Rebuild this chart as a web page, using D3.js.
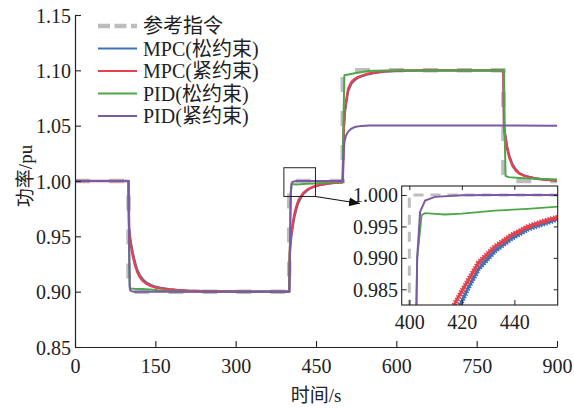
<!DOCTYPE html>
<html>
<head>
<meta charset="utf-8">
<script src="https://cdn.jsdelivr.net/npm/d3@7"></script>
<style>
  html, body { margin: 0; padding: 0; background: #fff; }
  svg { display: block; }
  text { font-family: "Liberation Serif", "Times New Roman", "Noto Sans CJK SC", serif; fill: #222; }
</style>
</head>
<body>
<svg id="chart" width="574" height="409"></svg>
<script>
// ---------------- data (time in s, power in pu) ----------------
const xTicks = [0, 150, 300, 450, 600, 750, 900];
const yTicks = [0.85, 0.90, 0.95, 1.00, 1.05, 1.10, 1.15];
const insetXTicks = [400, 420, 440];
const insetYTicks = [0.985, 0.990, 0.995, 1.000];
const seriesNames = ["参考指令", "MPC(松约束)", "MPC(紧约束)", "PID(松约束)", "PID(紧约束)"];

const refCmd = [[0,1],[100,1],[100,0.9],[400,0.9],[400,1],[500,1],[500,1.1],[800,1.1],[800,1],[900,1]];

const mpcLoose = [[0,1],[100,1],[101,0.958],[103,0.949],[105,0.943],[108,0.935],[112,0.927],[116,0.920],[121,0.915],
  [127,0.911],[134,0.908],[142,0.906],[150,0.9045],[160,0.9035],[175,0.9024],[190,0.9016],[210,0.901],[240,0.9005],
  [280,0.9002],[340,0.9],[400,0.9],
  [401,0.932],[402,0.941],[404,0.950],[407,0.960],[410,0.968],[413,0.9738],[416,0.9790],[419.3,0.9825],[422.5,0.9853],
  [426.3,0.9882],[432.6,0.9911],[439,0.9931],[445.3,0.9946],[451.7,0.9955],[456.8,0.9962],[465,0.9970],[475,0.9978],
  [490,0.9985],[500,0.9988],
  [501,1.028],[502,1.047],[504,1.062],[507,1.072],[510,1.081],[516,1.0878],[522,1.091],[528,1.093],[537,1.0948],
  [547,1.0964],[560,1.0976],[578,1.0988],[600,1.0995],[650,1.0999],[800,1.1],
  [801,1.052],[802,1.046],[804,1.040],[807,1.031],[811,1.023],[817,1.015],[823,1.0105],[829.6,1.0072],[838,1.0052],
  [848,1.0038],[860,1.0025],[873,1.0016],[886,1.001],[900,1.0006]];

const mpcTight = [[0,1],[100,1],[101,0.955],[103,0.946],[105,0.940],[108,0.932],[112,0.924],[116,0.918],[121,0.913],
  [127,0.9095],[134,0.907],[142,0.905],[150,0.9038],[160,0.903],[175,0.902],[190,0.9013],[210,0.9008],[240,0.9004],
  [280,0.9002],[340,0.9],[400,0.9],
  [401,0.935],[402,0.944],[404,0.953],[407,0.963],[410,0.971],[413,0.9765],[415,0.9795],[417.4,0.9828],[422.5,0.9865],
  [426.3,0.9892],[432.6,0.9918],[439,0.99365],[445.3,0.995],[451.7,0.9959],[456.8,0.9965],[465,0.9973],[475,0.998],
  [490,0.9987],[500,0.999],
  [501,1.030],[502,1.050],[504,1.065],[507,1.0744],[510,1.0834],[516,1.0894],[522,1.0922],[528,1.0939],[537,1.0955],
  [547,1.097],[560,1.098],[578,1.0992],[600,1.0997],[650,1.1],[800,1.1],
  [801,1.05],[802,1.044],[804,1.038],[807,1.029],[811,1.021],[817,1.0135],[823,1.0095],[829.6,1.0066],[838,1.0048],
  [848,1.0035],[860,1.0022],[873,1.0014],[886,1.0009],[900,1.0005]];

const pidLoose = [[0,1],[100,1],[101.5,0.92],[102.5,0.9035],[104,0.9028],[110,0.9026],[125,0.9024],[140,0.902],
  [155,0.9013],[175,0.9006],[200,0.9002],[250,0.9],[400,0.9],
  [401.5,0.95],[403,0.99],[404.7,0.9968],[406,0.9971],[410,0.9970],[413.6,0.9969],[420,0.99705],[432.6,0.9975],
  [445,0.9978],[456.8,0.99815],[470,0.9986],[485,0.999],[500,0.9993],
  [501.5,1.06],[503,1.0955],[520,1.0972],[547,1.0993],[580,1.0999],[800,1.1],
  [801,1.1],[802.5,1.04],[804,1.0045],[810,1.0035],[830,1.0028],[860,1.002],[900,1.0013]];

const pidTight = [[0,1],[100,1],[101,0.95],[102,0.905],[103,0.9015],[105,0.9005],[110,0.9],[400,0.9],
  [401,0.92],[402.2,0.97],[403,0.99],[404.1,0.9973],[406,0.9991],[409.8,0.9997],[420,0.99995],[430,1.0],[500,1.0],
  [501,1.02],[503,1.0352],[506,1.041],[509.4,1.0442],[515,1.047],[522,1.0487],[535,1.0498],[550,1.0502],[900,1.05]];

const colors = { ref: "#bdbdbd", blue: "#3d72b3", red: "#e5414e", green: "#4ea64a", purple: "#7a5aa6" };

// ---------------- layout ----------------
const svg = d3.select("#chart");
const x = d3.scaleLinear().domain([0, 900]).range([75, 557]);
const y = d3.scaleLinear().domain([0.85, 1.15]).range([347, 15]);

svg.append("defs").append("clipPath").attr("id", "mainClip")
  .append("rect").attr("x", 75).attr("y", 13).attr("width", 484).attr("height", 336);
svg.select("defs").append("clipPath").attr("id", "insetClip")
  .append("rect").attr("x", 401.7).attr("y", 186).attr("width", 156).attr("height", 119);
svg.select("defs").append("marker").attr("id", "arrowHead")
  .attr("viewBox", "0 0 10 10").attr("refX", 10).attr("refY", 5)
  .attr("markerWidth", 11).attr("markerHeight", 11).attr("markerUnits", "userSpaceOnUse")
  .attr("orient", "auto")
  .append("path").attr("d", "M0,1 L10,5 L0,9 Z").attr("fill", "#111");

const line = d3.line().x(d => x(d[0])).y(d => y(d[1]));

const plot = svg.append("g").attr("clip-path", "url(#mainClip)");
plot.append("path").datum(refCmd).attr("d", line).attr("fill", "none")
  .attr("stroke", colors.ref).attr("stroke-width", 4.5).attr("stroke-dasharray", "15 19");
[[mpcLoose, colors.blue, 2.2], [mpcTight, colors.red, 2.4], [pidLoose, colors.green, 2], [pidTight, colors.purple, 2]]
  .forEach(([data, c, w]) => {
    plot.append("path").datum(data).attr("d", line).attr("fill", "none")
      .attr("stroke", c).attr("stroke-width", w).attr("stroke-linejoin", "round");
  });

// axes
const xAxis = d3.axisBottom(x).tickValues(xTicks).tickFormat(d3.format("d"))
  .tickSizeInner(-6).tickSizeOuter(0).tickPadding(11.8);
const yAxis = d3.axisLeft(y).tickValues(yTicks).tickFormat(d3.format(".2f"))
  .tickSizeInner(-6).tickSizeOuter(0).tickPadding(4);
const gx = svg.append("g").attr("transform", "translate(0,347)").call(xAxis);
const gy = svg.append("g").attr("transform", "translate(75,0)").call(yAxis);
[gx, gy].forEach(g => {
  g.select(".domain").attr("stroke", "#222").attr("stroke-width", 1.2);
  g.selectAll(".tick line").attr("stroke", "#222").attr("stroke-width", 1.1);
  g.selectAll(".tick text").attr("font-size", 20).attr("fill", "#222")
    .attr("font-family", "'Liberation Serif', 'Times New Roman', serif");
});
gy.selectAll(".tick text").attr("dy", "0.35em");

svg.append("text").attr("x", 316).attr("y", 402).attr("text-anchor", "middle")
  .attr("font-size", 19).text("时间/s");
svg.append("text").attr("transform", "translate(25,176) rotate(-90)").attr("text-anchor", "middle")
  .attr("dominant-baseline", "central").attr("font-size", 19).text("功率/pu");

// zoom box + arrow
svg.append("rect").attr("x", x(390)).attr("y", y(1.012))
  .attr("width", x(449) - x(390)).attr("height", y(0.986) - y(1.012))
  .attr("fill", "none").attr("stroke", "#222").attr("stroke-width", 1);
svg.append("line").attr("x1", x(449)).attr("y1", y(0.986)).attr("x2", 360).attr("y2", 203.5)
  .attr("stroke", "#111").attr("stroke-width", 1.1).attr("marker-end", "url(#arrowHead)");

// legend
const legendY = [26, 48.5, 71, 93.5, 116];
const legendStyles = [
  { c: colors.ref, w: 4.5, dash: "12 4.5" },
  { c: colors.blue, w: 2.2 }, { c: colors.red, w: 2.2 }, { c: colors.green, w: 2.2 }, { c: colors.purple, w: 2.2 }];
const lg = svg.append("g");
seriesNames.forEach((name, i) => {
  const s = legendStyles[i];
  lg.append("line").attr("x1", 98).attr("x2", 137).attr("y1", legendY[i]).attr("y2", legendY[i])
    .attr("stroke", s.c).attr("stroke-width", s.w).attr("stroke-dasharray", s.dash || null);
  lg.append("text").attr("x", 143).attr("y", legendY[i]).attr("dy", "0.35em")
    .attr("font-size", 20).text(name);
});

// ---------------- inset ----------------
const ix = d3.scaleLinear().domain([397.1, 456.5]).range([401.7, 557.7]);
const iy = d3.scaleLinear().domain([0.9825, 1.00143]).range([305, 186]);
const iline = d3.line().x(d => ix(d[0])).y(d => iy(d[1]));

svg.append("rect").attr("x", 401.7).attr("y", 186).attr("width", 156).attr("height", 119)
  .attr("fill", "#fff");
const ip = svg.append("g").attr("clip-path", "url(#insetClip)");
ip.append("path").datum(refCmd).attr("d", iline).attr("fill", "none")
  .attr("stroke", colors.ref).attr("stroke-width", 3).attr("stroke-dasharray", "10 7");
[[mpcLoose, colors.blue], [mpcTight, colors.red]].forEach(([data, c]) => {
  ip.append("path").datum(data).attr("d", iline).attr("fill", "none")
    .attr("stroke", c).attr("stroke-width", 3);
  ip.append("path").datum(data).attr("d", iline).attr("fill", "none")
    .attr("stroke", c).attr("stroke-width", 5.5).attr("stroke-dasharray", "1.4 1.4");
});
ip.append("path").datum(pidLoose).attr("d", iline).attr("fill", "none")
  .attr("stroke", colors.green).attr("stroke-width", 1.8);
ip.append("path").datum(pidTight).attr("d", iline).attr("fill", "none")
  .attr("stroke", colors.purple).attr("stroke-width", 2);

const ixAxis = d3.axisBottom(ix).tickValues(insetXTicks).tickFormat(d3.format("d"))
  .tickSizeInner(-5).tickSizeOuter(0).tickPadding(9.8);
const iyAxis = d3.axisLeft(iy).tickValues(insetYTicks).tickFormat(d3.format(".3f"))
  .tickSizeInner(-5).tickSizeOuter(0).tickPadding(3.7);
const igx = svg.append("g").attr("transform", "translate(0,305)").call(ixAxis);
const igy = svg.append("g").attr("transform", "translate(401.7,0)").call(iyAxis);
const igx2 = svg.append("g").attr("transform", "translate(0,186)")
  .call(d3.axisTop(ix).tickValues(insetXTicks).tickFormat("").tickSizeInner(-4).tickSizeOuter(0));
const igy2 = svg.append("g").attr("transform", "translate(557.7,0)")
  .call(d3.axisRight(iy).tickValues(insetYTicks).tickFormat("").tickSizeInner(-4).tickSizeOuter(0));
[igx, igy, igx2, igy2].forEach(g => {
  g.select(".domain").remove();
  g.selectAll(".tick line").attr("stroke", "#222").attr("stroke-width", 1);
  g.selectAll(".tick text").attr("font-size", 20).attr("fill", "#222")
    .attr("font-family", "'Liberation Serif', 'Times New Roman', serif");
});
igy.selectAll(".tick text").attr("dy", "0.35em");
svg.append("rect").attr("x", 401.7).attr("y", 186).attr("width", 156).attr("height", 119)
  .attr("fill", "none").attr("stroke", "#222").attr("stroke-width", 1.1);
</script>
</body>
</html>
